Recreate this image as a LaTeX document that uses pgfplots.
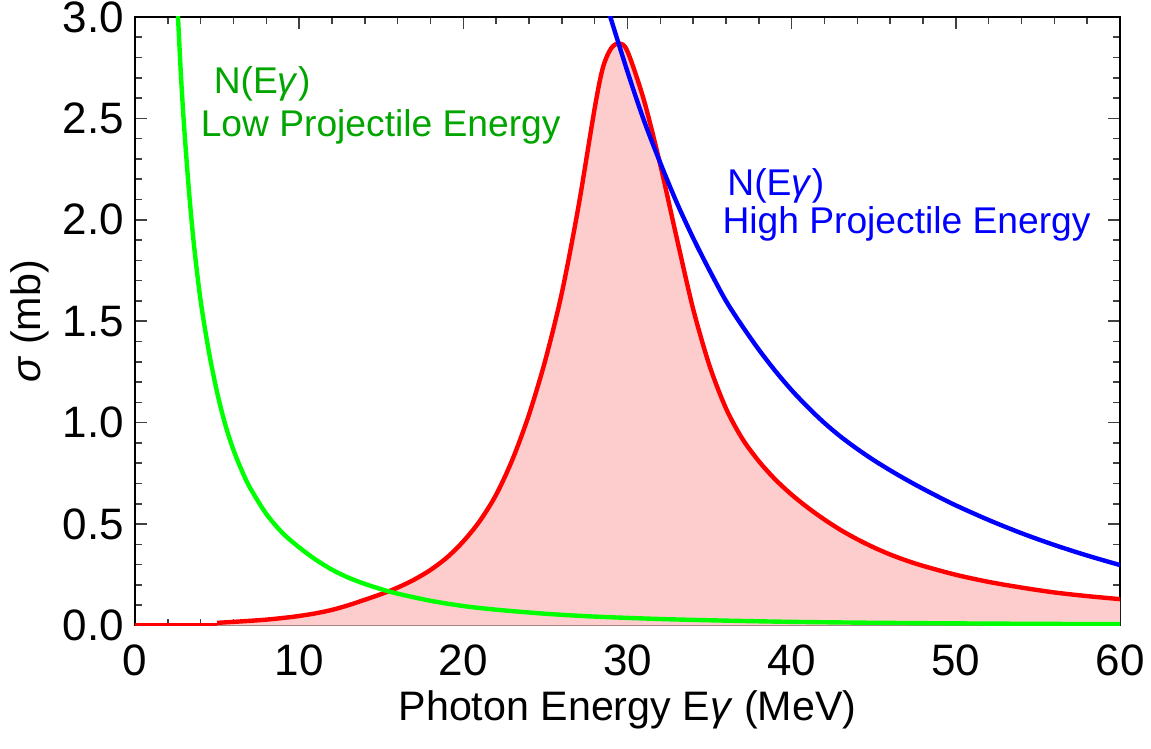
\documentclass[border=0pt]{standalone}
\usepackage{fontspec}
\setmainfont{Liberation Sans}
\usepackage{pgfplots}
\pgfplotsset{compat=1.18}
\definecolor{lblgreen}{RGB}{0,165,0}
\definecolor{fillpink}{RGB}{253,204,204}
\begin{document}
\begin{tikzpicture}
\begin{axis}[
  at={(0,0)}, anchor=south west, scale only axis,
  width=246.25pt, height=152.125pt,
  xmin=0, xmax=60, ymin=0, ymax=3,
  clip mode=individual,
  xtick={0,10,...,60}, minor x tick num=4,
  ytick={0,0.5,...,3}, minor y tick num=4,
  tick align=inside, major tick length=2.9pt, minor tick length=1.7pt,
  tick style={black!75, line width=0.4pt},
  axis line style={line width=0.45pt},
  tick label style={font=\fontsize{11}{13}\selectfont},
  xticklabel style={yshift=-1.2pt},
  yticklabel style={xshift=0.8pt, /pgf/number format/.cd, fixed, fixed zerofill, precision=1},
  /pgf/number format/assume math mode=true,
]
% filled area under the cross section
\addplot[draw=none, fill=fillpink] coordinates {
(0,0) (5,0) (5,0.013) (6,0.018) (7,0.023) (8,0.029) (9,0.037) (10,0.047)
(11,0.06) (12,0.077) (13,0.1) (14,0.127) (15,0.155) (16,0.187) (17,0.226)
(18,0.274) (19,0.335) (20,0.415) (21,0.515) (22,0.645) (23,0.82) (24,1.04)
(25,1.31) (26,1.64) (27,2.06) (28,2.55) (28.5,2.75) (29,2.845) (29.5,2.87)
(30,2.83) (31,2.59) (32,2.27) (33,1.91) (34,1.56) (35,1.28)
(36,1.07) (37,0.92) (38,0.81) (39,0.72) (40,0.645) (41,0.58) (42,0.522)
(43,0.47) (44,0.425) (45,0.385) (46,0.35) (47,0.32) (48,0.294) (50,0.25)
(52,0.215) (54,0.187) (56,0.163) (58,0.145) (60,0.13)
} \closedcycle;
% cross section line
\addplot[red, line width=1.1pt] coordinates {
(0,0) (5,0)
};
\addplot[red, line width=1.1pt, smooth] coordinates {
(5,0.013) (6,0.018) (7,0.023) (8,0.029) (9,0.037) (10,0.047)
(11,0.06) (12,0.077) (13,0.1) (14,0.127) (15,0.155) (16,0.187) (17,0.226)
(18,0.274) (19,0.335) (20,0.415) (21,0.515) (22,0.645) (23,0.82) (24,1.04)
(25,1.31) (26,1.64) (27,2.06) (28,2.55) (28.5,2.75) (29,2.845) (29.5,2.87)
(30,2.83) (31,2.59) (32,2.27) (33,1.91) (34,1.56) (35,1.28)
(36,1.07) (37,0.92) (38,0.81) (39,0.72) (40,0.645) (41,0.58) (42,0.522)
(43,0.47) (44,0.425) (45,0.385) (46,0.35) (47,0.32) (48,0.294) (50,0.25)
(52,0.215) (54,0.187) (56,0.163) (58,0.145) (60,0.13)
};
% low projectile energy photon flux
\addplot[green, line width=1.1pt, smooth] coordinates {
(2.55,3.1) (2.62,3.0) (2.8,2.71) (3.0,2.45) (3.3,2.13) (3.6,1.87) (4.0,1.60)
(4.5,1.35) (5.0,1.15) (5.5,0.99) (6.0,0.865) (6.5,0.765) (7.0,0.68) (8.0,0.55)
(9.0,0.455) (10,0.385) (11,0.325) (12,0.275) (13,0.236) (14,0.205) (15,0.179)
(16,0.157) (18,0.122) (20,0.096) (22,0.078) (25,0.058) (28,0.044) (32,0.032)
(36,0.024) (40,0.018) (45,0.0135) (50,0.0105) (55,0.0082) (60,0.0065)
};
% high projectile energy photon flux
\addplot[blue, line width=1.1pt, smooth] coordinates {
(28.8,3.04) (30,2.73) (31,2.49) (32,2.28) (33,2.085) (34,1.91) (35,1.75)
(36,1.60) (37,1.475) (38,1.36) (39,1.255) (40,1.16) (41,1.075) (42,0.998)
(43,0.93) (44,0.87) (45,0.815) (46,0.765) (47,0.718) (48,0.674) (49,0.632)
(50,0.592) (52,0.52) (54,0.455) (56,0.397) (58,0.345) (60,0.298)
};
\node[anchor=base west, text=lblgreen, inner sep=0pt, font=\fontsize{9.3}{11}\selectfont] at (axis cs:4.75,2.625) {N(E\textit{γ})};
\node[anchor=base west, text=lblgreen, inner sep=0pt, font=\fontsize{9.3}{11}\selectfont] at (axis cs:3.96,2.413) {Low Projectile Energy};
\node[anchor=base west, text=blue, inner sep=0pt, font=\fontsize{9.3}{11}\selectfont] at (axis cs:36.04,2.122) {N(E\textit{γ})};
\node[anchor=base west, text=blue, inner sep=0pt, font=\fontsize{9.3}{11}\selectfont] at (axis cs:35.74,1.935) {High Projectile Energy};
\node[anchor=base, inner sep=0pt, font=\fontsize{10.3}{12}\selectfont] at (axis description cs:0.5,-0.156) {Photon Energy E\textit{γ} (MeV)};
\node[anchor=base, rotate=90, inner sep=0pt, font=\fontsize{10.3}{12}\selectfont] at (axis description cs:-0.0964,0.5) {\textit{σ} (mb)};
\end{axis}
\pgfresetboundingbox
\useasboundingbox (-33.75pt,-30.625pt) rectangle (254pt,156.375pt);
\end{tikzpicture}
\end{document}
